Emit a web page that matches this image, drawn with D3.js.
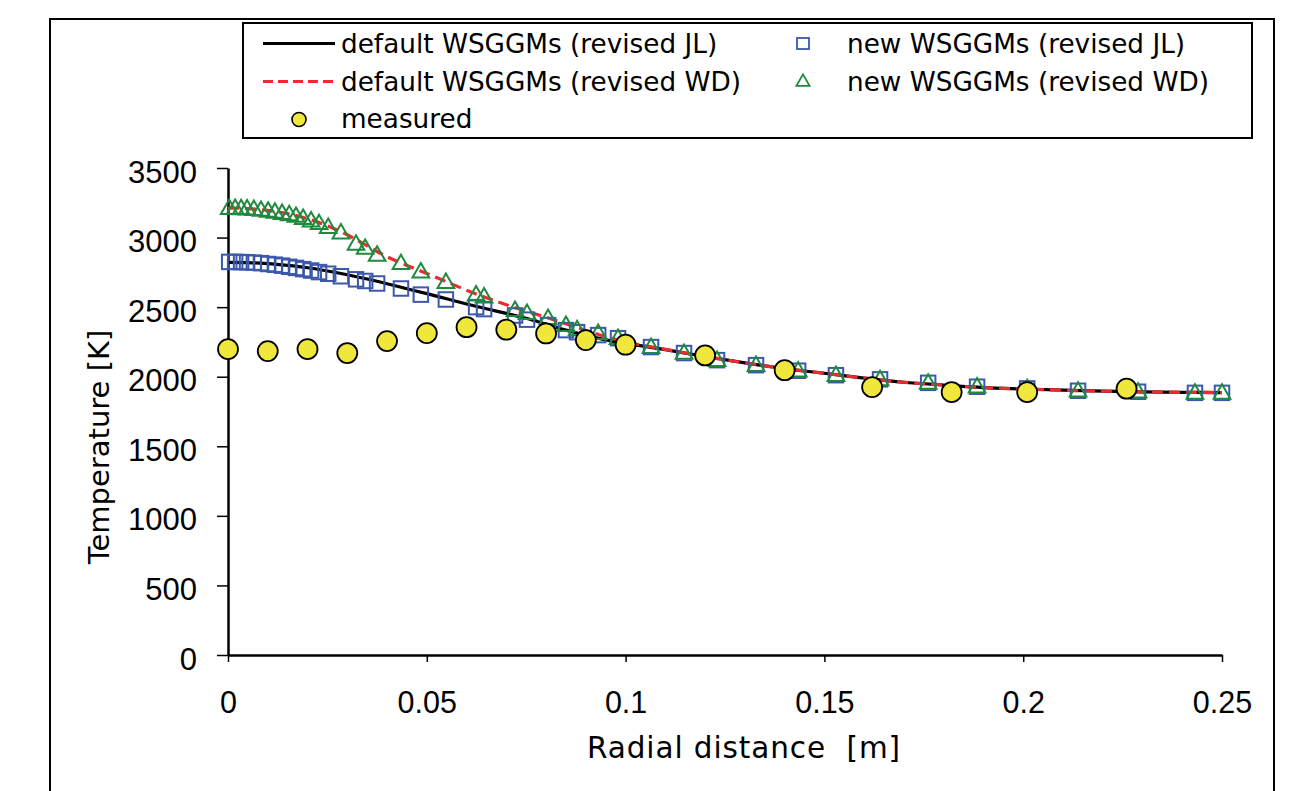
<!DOCTYPE html>
<html>
<head>
<meta charset="utf-8">
<script src="https://cdn.jsdelivr.net/npm/d3@7"></script>
<style>
  html, body { margin: 0; padding: 0; background: #fff; }
  svg { display: block; }
</style>
</head>
<body>
<script>
// ---------------- DATA ----------------
const xTicks = [0, 0.05, 0.1, 0.15, 0.2, 0.25];
const xTickLabels = ["0", "0.05", "0.1", "0.15", "0.2", "0.25"];
const yTicks = [0, 500, 1000, 1500, 2000, 2500, 3000, 3500];
const yTickLabels = ["0", "500", "1000", "1500", "2000", "2500", "3000", "3500"];

// default WSGGMs curves
const lineR = [0, 0.005, 0.01, 0.015, 0.02, 0.025, 0.03, 0.035, 0.04, 0.045, 0.05, 0.055, 0.06, 0.065, 0.07, 0.075, 0.08, 0.085, 0.09, 0.095, 0.1, 0.11, 0.12, 0.13, 0.14, 0.15, 0.16, 0.17, 0.18, 0.19, 0.2, 0.21, 0.22, 0.23, 0.24, 0.25];
const defaultJL = [2822, 2820, 2813, 2800, 2783, 2760, 2733, 2702, 2668, 2632, 2597, 2560, 2523, 2488, 2455, 2420, 2378, 2335, 2297, 2265, 2240, 2195, 2145, 2100, 2058, 2025, 1990, 1960, 1940, 1922, 1912, 1903, 1896, 1891, 1888, 1886];
const defaultWD = [3212, 3208, 3195, 3172, 3135, 3085, 3020, 2940, 2862, 2800, 2742, 2682, 2622, 2567, 2517, 2472, 2427, 2380, 2332, 2288, 2250, 2197, 2145, 2100, 2058, 2025, 1990, 1960, 1940, 1922, 1912, 1903, 1896, 1891, 1888, 1886];

// new WSGGMs markers (shared radial mesh)
const meshR = [0.0003, 0.0018, 0.0033, 0.0048, 0.0065, 0.0083, 0.0101, 0.0118, 0.0136, 0.0154, 0.0171, 0.0189, 0.0209, 0.0229, 0.0252, 0.0284, 0.0322, 0.0345, 0.0375, 0.0435, 0.0485, 0.0548, 0.0624, 0.0644, 0.0722, 0.0752, 0.0805, 0.0850, 0.0878, 0.0931, 0.0981, 0.1064, 0.1147, 0.1230, 0.1328, 0.1434, 0.1529, 0.1640, 0.1761, 0.1884, 0.2010, 0.2138, 0.2289, 0.2432, 0.2500];
const newJL = [2825, 2825, 2824, 2822, 2820, 2816, 2810, 2805, 2798, 2790, 2782, 2773, 2763, 2752, 2740, 2722, 2700, 2688, 2670, 2634, 2590, 2555, 2500, 2486, 2440, 2410, 2371, 2335, 2320, 2299, 2277, 2213, 2170, 2119, 2083, 2043, 2011, 1981, 1956, 1928, 1916, 1899, 1892, 1884, 1884];
const newWD = [3212, 3212, 3210, 3208, 3204, 3198, 3192, 3185, 3176, 3166, 3155, 3140, 3122, 3103, 3075, 3035, 2955, 2925, 2875, 2815, 2755, 2680, 2590, 2575, 2478, 2457, 2421, 2371, 2340, 2313, 2277, 2213, 2170, 2119, 2083, 2043, 2011, 1981, 1956, 1928, 1916, 1899, 1892, 1884, 1884];

// measured
const measR = [0.0, 0.01, 0.02, 0.03, 0.04, 0.05, 0.06, 0.07, 0.08, 0.09, 0.1, 0.12, 0.14, 0.162, 0.182, 0.201, 0.226];
const measT = [2198, 2184, 2198, 2170, 2256, 2313, 2356, 2338, 2311, 2263, 2230, 2153, 2047, 1925, 1889, 1889, 1914];

const legendLabels = ["default WSGGMs (revised JL)", "default WSGGMs (revised WD)", "measured", "new WSGGMs (revised JL)", "new WSGGMs (revised WD)"];
const xTitle = "Radial distance\u00a0 [m]";
const yTitle = "Temperature [K]";

// ---------------- STYLE ----------------
const W = 1300, H = 791;
const cBlack = "#000000", cRed = "#ee2a2f", cBlue = "#3b58ad", cGreen = "#1f8a3e", cYellow = "#efe73b";
const tickFont = "'Liberation Sans', Arial, sans-serif";
const textFont = "'DejaVu Sans', Verdana, sans-serif";

const svg = d3.select("body").append("svg").attr("width", W).attr("height", H);

// outer frame
svg.append("rect").attr("x", 50).attr("y", 19).attr("width", 1224).attr("height", 820)
  .attr("fill", "none").attr("stroke", "#000").attr("stroke-width", 2);

const x = d3.scaleLinear().domain([0, 0.25]).range([228, 1222]);
const y = d3.scaleLinear().domain([0, 3500]).range([655, 168]);

// axes
const xAxis = d3.axisBottom(x).tickValues(xTicks).tickFormat((d, i) => xTickLabels[i]).tickSize(7).tickSizeOuter(0);
const yAxis = d3.axisLeft(y).tickValues(yTicks).tickFormat((d, i) => yTickLabels[i]).tickSize(11).tickSizeOuter(0);

const gx = svg.append("g").attr("transform", `translate(0,${y(0)})`).call(xAxis);
gx.select(".domain").attr("stroke", "#000").attr("stroke-width", 2.5);
gx.selectAll(".tick line").attr("stroke", "#000").attr("stroke-width", 1.5);
gx.selectAll(".tick text").attr("font-family", tickFont).attr("font-size", 30.5).attr("fill", "#000")
  .attr("y", 0).attr("dy", 0).attr("transform", "translate(0,58)");

const gy = svg.append("g").attr("transform", `translate(${x(0)},0)`).call(yAxis);
gy.select(".domain").attr("stroke", "#000").attr("stroke-width", 2.5);
gy.selectAll(".tick line").attr("stroke", "#000").attr("stroke-width", 1.5);
gy.selectAll(".tick text").attr("font-family", tickFont).attr("font-size", 31).attr("fill", "#000")
  .attr("x", -31).attr("dy", 0).attr("transform", "translate(0,14)");

// axis titles
svg.append("text").attr("x", 744).attr("y", 758).attr("text-anchor", "middle")
  .attr("font-family", textFont).attr("font-size", 29.5).attr("letter-spacing", 0.9)
  .attr("fill", "#000").text(xTitle);
svg.append("text").attr("transform", "translate(109,447) rotate(-90)").attr("text-anchor", "middle")
  .attr("font-family", textFont).attr("font-size", 29).attr("fill", "#000").text(yTitle);

// lines
const lineGen = (vals) => d3.line().curve(d3.curveMonotoneX)
  .x((d, i) => x(lineR[i])).y((d, i) => y(vals[i]))(vals);

svg.append("path").attr("d", lineGen(defaultJL)).attr("fill", "none")
  .attr("stroke", cBlack).attr("stroke-width", 3.2);
svg.append("path").attr("d", lineGen(defaultWD)).attr("fill", "none")
  .attr("stroke", cRed).attr("stroke-width", 3.2).attr("stroke-dasharray", "11,6");

// square markers
const sq = 14.5;
svg.append("g").selectAll("rect").data(newJL).join("rect")
  .attr("x", (d, i) => x(meshR[i]) - sq / 2).attr("y", d => y(d) - sq / 2)
  .attr("width", sq).attr("height", sq)
  .attr("fill", "none").attr("stroke", cBlue).attr("stroke-width", 2);

// triangle markers
const tri = d3.symbol().type(d3.symbolTriangle).size(120);
svg.append("g").selectAll("path").data(newWD).join("path")
  .attr("d", tri).attr("transform", (d, i) => `translate(${x(meshR[i])},${y(d) + 1})`)
  .attr("fill", "none").attr("stroke", cGreen).attr("stroke-width", 2);

// measured circles
svg.append("g").selectAll("circle").data(measT).join("circle")
  .attr("cx", (d, i) => x(measR[i])).attr("cy", d => y(d)).attr("r", 10)
  .attr("fill", cYellow).attr("stroke", "#000").attr("stroke-width", 1.8);

// legend
const lg = svg.append("g");
lg.append("rect").attr("x", 243).attr("y", 23).attr("width", 1009).attr("height", 115)
  .attr("fill", "#fff").attr("stroke", "#000").attr("stroke-width", 2);
const lt = (tx, ty, s) => lg.append("text").attr("x", tx).attr("y", ty)
  .attr("font-family", textFont).attr("font-size", 26.3).attr("fill", "#000").text(s);

lg.append("line").attr("x1", 263).attr("x2", 335).attr("y1", 43.5).attr("y2", 43.5)
  .attr("stroke", cBlack).attr("stroke-width", 3.2);
lt(341, 53, legendLabels[0]);
lg.append("line").attr("x1", 263).attr("x2", 335).attr("y1", 81.5).attr("y2", 81.5)
  .attr("stroke", cRed).attr("stroke-width", 3.2).attr("stroke-dasharray", "10,5");
lt(341, 91, legendLabels[1]);
lg.append("circle").attr("cx", 299).attr("cy", 119.5).attr("r", 7)
  .attr("fill", cYellow).attr("stroke", "#000").attr("stroke-width", 1.6);
lt(341, 128, legendLabels[2]);
lg.append("rect").attr("x", 797).attr("y", 38).attr("width", 12).attr("height", 11)
  .attr("fill", "none").attr("stroke", cBlue).attr("stroke-width", 1.8);
lt(847, 53, legendLabels[3]);
lg.append("path").attr("d", d3.symbol().type(d3.symbolTriangle).size(75))
  .attr("transform", "translate(803,82)")
  .attr("fill", "none").attr("stroke", cGreen).attr("stroke-width", 1.8);
lt(847, 91, legendLabels[4]);
</script>
</body>
</html>
